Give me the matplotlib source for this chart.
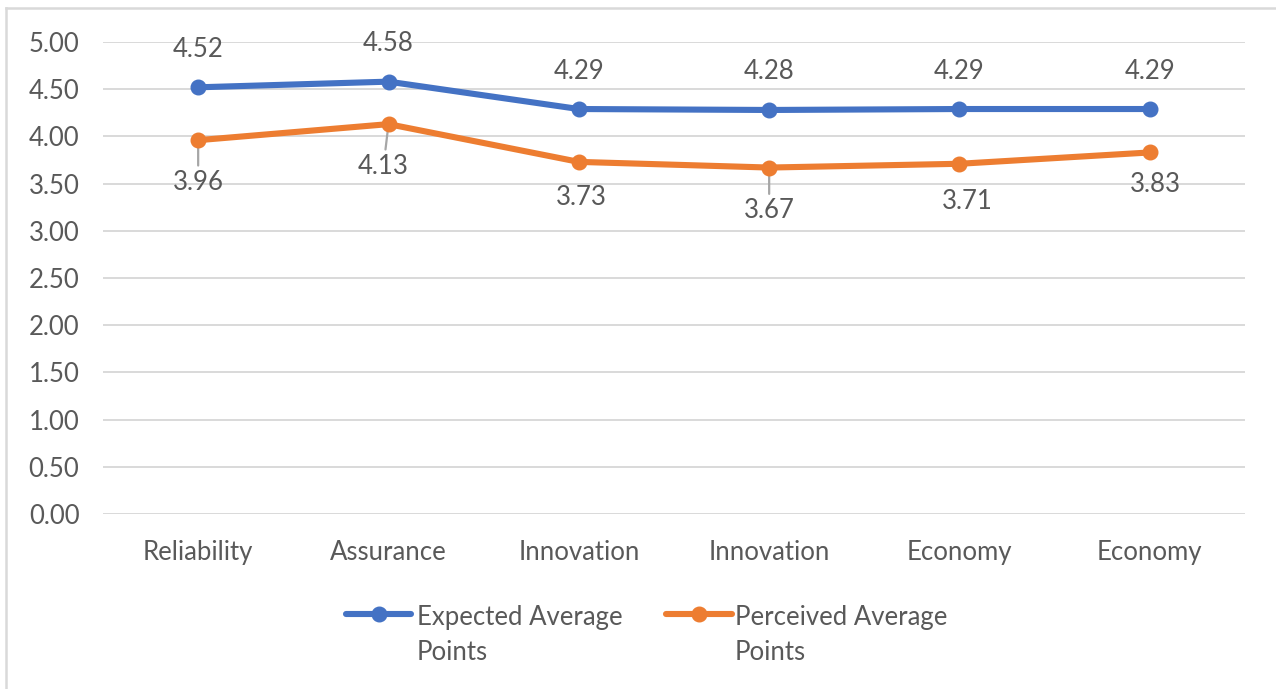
import matplotlib
matplotlib.use("Agg")
import matplotlib.pyplot as plt
from matplotlib.lines import Line2D

plt.rcParams['font.family'] = ['Lato', 'DejaVu Sans']

categories = ["Reliability", "Assurance", "Innovation", "Innovation", "Economy", "Economy"]
expected = [4.52, 4.58, 4.29, 4.28, 4.29, 4.29]
perceived = [3.96, 4.13, 3.73, 3.67, 3.71, 3.83]
series_names = ["Expected Average\nPoints", "Perceived Average\nPoints"]
y_ticks = [0.0, 0.5, 1.0, 1.5, 2.0, 2.5, 3.0, 3.5, 4.0, 4.5, 5.0]

BLUE = "#4472C4"
ORANGE = "#ED7D31"
TEXT = "#595959"
GRID = "#D9D9D9"
FS = 18.5
LW = 4.4
MS = 10.5

W, H = 1276, 689
fig = plt.figure(figsize=(W / 100, H / 100), dpi=100)
ax = fig.add_axes([103 / W, 1 - 514 / H, (1245 - 103) / W, (514 - 42) / H])

x = list(range(len(categories)))
ax.plot(x, expected, color=BLUE, lw=LW, marker='o', ms=MS, zorder=3,
        solid_capstyle='round', solid_joinstyle='round')
ax.plot(x, perceived, color=ORANGE, lw=LW, marker='o', ms=MS, zorder=3,
        solid_capstyle='round', solid_joinstyle='round')

ax.set_xlim(-0.5, len(categories) - 0.5)
ax.set_ylim(0, 5)
ax.set_yticks(y_ticks)
ax.set_yticklabels([f"{v:.2f}" for v in y_ticks])
ax.set_xticks(x)
ax.set_xticklabels(categories)
ax.tick_params(axis='both', length=0, labelsize=FS, labelcolor=TEXT)
ax.tick_params(axis='y', pad=17)
ax.tick_params(axis='x', pad=19)
ax.grid(axis='y', color=GRID, lw=1.4)
ax.set_axisbelow(True)
for s in ax.spines.values():
    s.set_visible(False)

# data labels: blue above, orange below (offsets in pixels)
for xi, v in zip(x, expected):
    ax.annotate(f"{v:.2f}", (xi, v), xytext=(0, 38), textcoords='offset pixels',
                ha='center', va='center', fontsize=FS, color=TEXT)

orange_offsets = [(0, -42), (-5, -42), (2, -36), (0, -43), (8, -38), (6, -32)]
leader = [True, True, False, True, False, False]
for xi, v, off, ld in zip(x, perceived, orange_offsets, leader):
    arrow = None
    if ld:
        arrow = dict(arrowstyle='-', color='#A6A6A6', lw=1.6, shrinkA=1, shrinkB=2)
    ax.annotate(f"{v:.2f}", (xi, v), xytext=off, textcoords='offset pixels',
                ha='center', va='center', fontsize=FS, color=TEXT,
                arrowprops=arrow, zorder=2)

# chart area border (left and top edges)
fig.add_artist(Line2D([6 / W, 6 / W], [0, 1 - 8 / H], color=GRID, lw=1.8,
                      transform=fig.transFigure))
fig.add_artist(Line2D([6 / W, 1], [1 - 8 / H, 1 - 8 / H], color=GRID, lw=1.8,
                      transform=fig.transFigure))

# legend: handle aligned with the first text line
legend_items = [(BLUE, 346, 411, 417), (ORANGE, 666, 732, 735)]
for (col, x0, x1, tx), name in zip(legend_items, series_names):
    yy = 1 - 614 / H
    fig.add_artist(Line2D([x0 / W, x1 / W], [yy, yy], color=col, lw=LW,
                          solid_capstyle='round', transform=fig.transFigure))
    fig.add_artist(Line2D([(x0 + x1) / 2 / W], [yy], color=col, marker='o', ms=MS,
                          transform=fig.transFigure))
    for i, line in enumerate(name.split("\n")):
        fig.text(tx / W, 1 - (617 + 35 * i) / H, line, ha='left', va='center',
                 fontsize=FS, color=TEXT)

fig.savefig("out.png", dpi=100)
